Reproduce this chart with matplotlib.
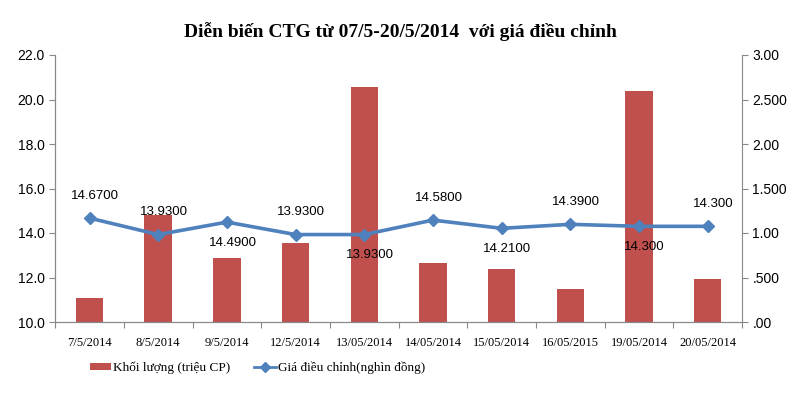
import numpy as np
import matplotlib
matplotlib.use("Agg")
from matplotlib import pyplot as plt
from matplotlib.lines import Line2D
from matplotlib.patches import Patch

dates = ["7/5/2014", "8/5/2014", "9/5/2014", "12/5/2014", "13/05/2014",
         "14/05/2014", "15/05/2014", "16/05/2015", "19/05/2014", "20/05/2014"]
volume = [0.27, 1.20, 0.72, 0.89, 2.64, 0.66, 0.59, 0.37, 2.59, 0.48]
price = [14.67, 13.93, 14.49, 13.93, 13.93, 14.58, 14.21, 14.39, 14.30, 14.30]
price_labels = ["14.6700", "13.9300", "14.4900", "13.9300", "13.9300",
                "14.5800", "14.2100", "14.3900", "14.300", "14.300"]
label_side = ["up", "up", "down", "up", "down", "up", "down", "up", "down", "up"]

red = "#C0504D"
blue = "#4F81BD"
serif = "Liberation Serif"
sans = "Liberation Sans"

fig = plt.figure(figsize=(8, 4), dpi=100)
ax = fig.add_axes([0.069, 0.195, 0.8585, 0.6675])
ax2 = ax.twinx()
x = np.arange(len(dates))

ax2.bar(x, volume, width=0.4, color=red)
ax.plot(x, price, color=blue, lw=2.6, marker="D", ms=6.5)

for xi, p, lab, side in zip(x, price, price_labels, label_side):
    dy = 16 if side == "up" else -15
    ax.annotate(lab, (xi, p), xytext=(4, dy), textcoords="offset points",
                ha="center", va="center", fontsize=9.5, family=sans)

# line axis above bars
ax.set_zorder(ax2.get_zorder() + 1)
ax.patch.set_visible(False)

ax.set_xlim(-0.5, 9.5)
ax.set_ylim(10, 22)
ax.set_yticks(np.arange(10, 22.1, 2))
ax.set_yticklabels([f"{v:.1f}" for v in np.arange(10, 22.1, 2)], family=sans, fontsize=10)
ax2.set_ylim(0, 3)
ax2.set_yticks([0, 0.5, 1, 1.5, 2, 2.5, 3])
ax2.set_yticklabels([".00", ".500", "1.00", "1.500", "2.00", "2.500", "3.00"],
                    family=sans, fontsize=10)

ax.set_xticks(np.arange(-0.5, 10, 1))
ax.set_xticklabels([])
ax.set_xticks(x, minor=True)
ax.set_xticklabels(dates, minor=True, family=serif, fontsize=9)
ax.tick_params(axis="x", which="minor", length=0, pad=11)
ax.tick_params(axis="x", which="major", length=4, color="#888888")
ax.tick_params(axis="y", length=4, color="#888888")
ax2.tick_params(axis="y", length=4, color="#888888")

for a in (ax, ax2):
    a.spines["top"].set_visible(False)
    for s in ("left", "right", "bottom"):
        a.spines[s].set_color("#888888")
ax.spines["right"].set_visible(False)

fig.text(0.5, 0.92, "Diễn biến CTG từ 07/5-20/5/2014  với giá điều chỉnh",
         ha="center", va="center", fontsize=14, fontweight="bold", family=serif)

handles = [Patch(facecolor=red), Line2D([], [], color=blue, lw=2, marker="D", ms=5)]
fig.legend(handles, ["Khối lượng (triệu CP)", "Giá điều chỉnh(nghìn đồng)"],
           loc="center", bbox_to_anchor=(0.322, 0.08), ncol=2, frameon=False,
           prop={"family": serif, "size": 9.5}, handlelength=1.6, handleheight=0.5,
           handletextpad=0.15, columnspacing=1.8)

fig.savefig("out.png", dpi=100)
